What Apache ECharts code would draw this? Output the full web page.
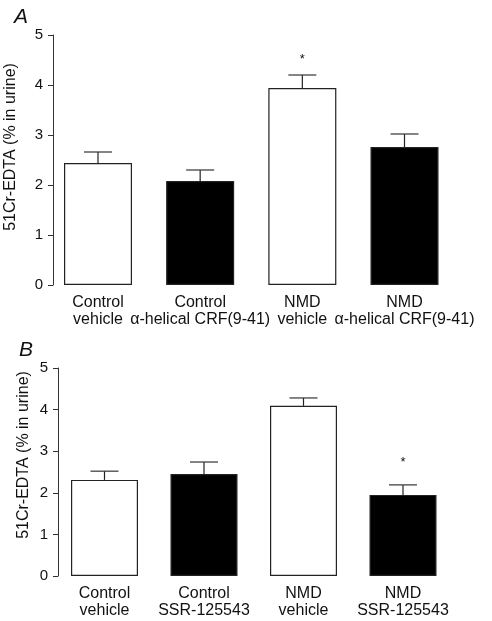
<!DOCTYPE html>
<html><head><meta charset="utf-8">
<script src="https://cdn.jsdelivr.net/npm/echarts@6/dist/echarts.min.js"></script>
<style>html,body{margin:0;padding:0;background:#fff}#c{width:492px;height:621px}</style>
</head><body><div id="c"></div>
<script>
const categoriesA = ['Control\nvehicle', 'Control\nα-helical CRF(9-41)', 'NMD\nvehicle', 'NMD\nα-helical CRF(9-41)'];
const valuesA = [2.44, 2.08, 3.94, 2.76];
const errTopA = [2.66, 2.30, 4.20, 3.02];
const starA = [null, null, 4.55, null];
const fillsA = ['#ffffff', '#000000', '#ffffff', '#000000'];

const categoriesB = ['Control\nvehicle', 'Control\nSSR-125543', 'NMD\nvehicle', 'NMD\nSSR-125543'];
const valuesB = [2.31, 2.45, 4.09, 1.95];
const errTopB = [2.52, 2.74, 4.28, 2.19];
const starB = [null, null, null, 2.79];
const fillsB = ['#ffffff', '#000000', '#ffffff', '#000000'];

const yTicks = [0, 1, 2, 3, 4, 5];
const yName = '51Cr-EDTA (% in urine)';
const FONT = '"Liberation Sans", Arial, Helvetica, sans-serif';

function yAxisCfg(gridIndex, offset, gap, pad) {
  return {
    type: 'value', gridIndex, min: yTicks[0], max: yTicks[yTicks.length - 1], interval: 1,
    offset,
    name: yName, nameLocation: 'middle', nameGap: gap, nameMoveOverlap: false,
    nameTextStyle: { fontFamily: FONT, fontSize: 16, color: '#111', padding: pad },
    axisLine: { show: true, lineStyle: { color: '#333', width: 1 } },
    axisTick: { show: true, length: 5, lineStyle: { color: '#333' } },
    axisLabel: { fontFamily: FONT, fontSize: 15, color: '#111', margin: 10 },
    splitLine: { show: false }
  };
}
function xAxisCfg(gridIndex, cats) {
  return {
    type: 'category', gridIndex, data: cats, boundaryGap: false,
    axisLine: { show: false }, axisTick: { show: false },
    axisLabel: { fontFamily: FONT, fontSize: 16, color: '#111', margin: 9, lineHeight: 17, interval: 0 }
  };
}
function barSeries(idx, vals, fills, w) {
  return {
    type: 'bar', xAxisIndex: idx, yAxisIndex: idx, barWidth: w,
    data: vals.map((v, i) => ({ value: v, itemStyle: { color: fills[i], borderColor: '#222', borderWidth: 1.2 } })),
    silent: true
  };
}
function errSeries(idx, vals, errs, stars) {
  return {
    type: 'custom', xAxisIndex: idx, yAxisIndex: idx, silent: true, z: 5,
    data: vals.map((v, i) => [i, v, errs[i], stars[i] == null ? -1 : stars[i]]),
    renderItem(params, api) {
      const i = api.value(0);
      const p0 = api.coord([i, api.value(1)]);
      const p1 = api.coord([i, api.value(2)]);
      const ch = [
        { type: 'line', shape: { x1: p0[0], y1: p0[1], x2: p1[0], y2: p1[1] }, style: { stroke: '#222', lineWidth: 1.2 } },
        { type: 'line', shape: { x1: p1[0] - 14, y1: p1[1], x2: p1[0] + 14, y2: p1[1] }, style: { stroke: '#333', lineWidth: 1.2 } }
      ];
      const s = api.value(3);
      if (s >= 0) {
        const ps = api.coord([i, s]);
        ch.push({ type: 'text', x: ps[0], y: ps[1] + 2, style: { text: '*', fontFamily: FONT, fontSize: 13, fill: '#111', align: 'center', verticalAlign: 'middle' } });
      }
      return { type: 'group', children: ch };
    }
  };
}

const chart = echarts.init(document.getElementById('c'), null, { renderer: 'canvas' });
chart.setOption({
  animation: false,
  backgroundColor: '#fff',
  title: [
    { text: 'A', left: 9, top: 2, textStyle: { fontFamily: FONT, fontSize: 21, fontStyle: 'italic', fontWeight: 'normal', color: '#111' } },
    { text: 'B', left: 14, top: 335, textStyle: { fontFamily: FONT, fontSize: 21, fontStyle: 'italic', fontWeight: 'normal', color: '#111' } }
  ],
  grid: [
    { left: 98, width: 306.5, top: 35, height: 250, outerBoundsMode: 'none', containLabel: false },
    { left: 104.5, width: 298.5, top: 368, height: 208, outerBoundsMode: 'none', containLabel: false }
  ],
  xAxis: [xAxisCfg(0, categoriesA), xAxisCfg(1, categoriesB)],
  yAxis: [yAxisCfg(0, 45, 34, [0, 0, 0, 26]), yAxisCfg(1, 46.5, 26, [0, 0, 0, 34])],
  series: [
    barSeries(0, valuesA, fillsA, 68),
    errSeries(0, valuesA, errTopA, starA),
    barSeries(1, valuesB, fillsB, 67),
    errSeries(1, valuesB, errTopB, starB)
  ]
});
</script></body></html>
